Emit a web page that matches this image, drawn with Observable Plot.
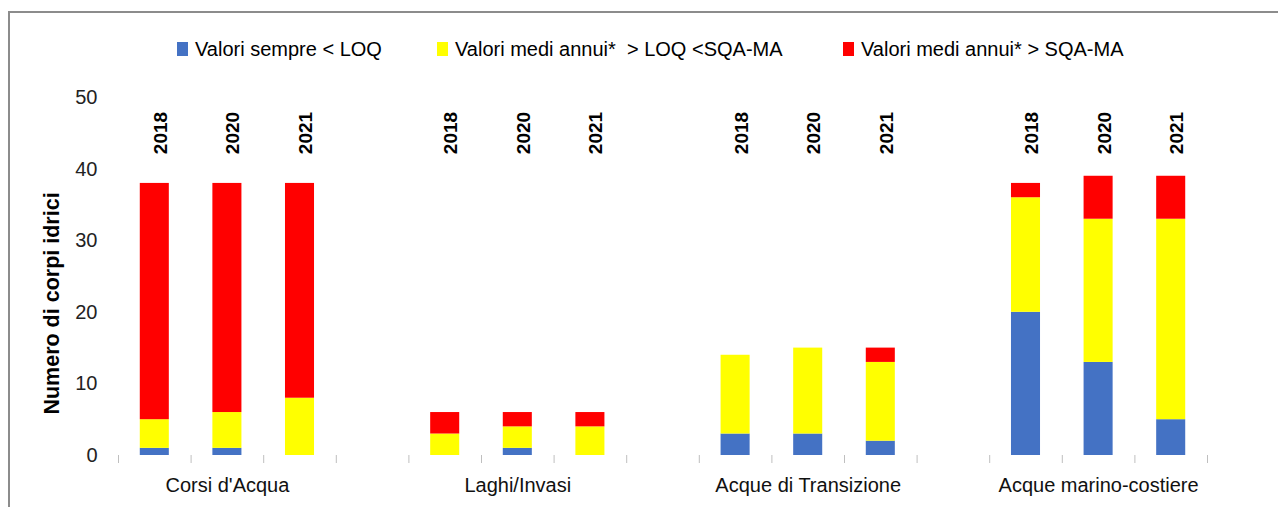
<!DOCTYPE html>
<html><head><meta charset="utf-8">
<script src="https://cdn.jsdelivr.net/npm/d3@7"></script>
<script src="https://cdn.jsdelivr.net/npm/@observablehq/plot@0.6"></script>
<style>
html,body{margin:0;padding:0;background:#fff;overflow:hidden;}
#wrap{position:relative;width:1278px;height:507px;font-family:"Liberation Sans",Arial,sans-serif;}
#frame{position:absolute;left:8px;top:11px;right:0;bottom:0;border-top:2px solid #8c8c8c;border-left:2px solid #8c8c8c;pointer-events:none;}
#legend{box-sizing:border-box;height:70px;padding-top:39px;padding-left:177px;display:flex;align-items:flex-start;font-size:20px;line-height:20px;color:#000;white-space:pre;}
.item{display:flex;align-items:center;height:20px;}
.sw{width:11px;height:14px;margin-right:7px;flex:none;}
#chart svg{display:block;}
</style>
</head><body>
<div id="wrap">
  <div id="legend"></div>
  <div id="chart"></div>
  <div id="frame"></div>
</div>
<script>
const categories = ["Corsi d'Acqua", "Laghi/Invasi", "Acque di Transizione", "Acque marino-costiere"];
const years = ["2018", "2020", "2021"];
const seriesNames = ["Valori sempre < LOQ", "Valori medi annui*  > LOQ <SQA-MA", "Valori medi annui* > SQA-MA"];
const sempreLOQ = [[1, 1, 0], [0, 1, 0], [3, 3, 2], [20, 13, 5]];
const mediLOQ   = [[4, 5, 8], [3, 3, 4], [11, 12, 11], [16, 20, 28]];
const mediSQA   = [[33, 32, 30], [3, 2, 2], [0, 0, 2], [2, 6, 6]];
const yTicks = [0, 10, 20, 30, 40, 50];
const yTitle = "Numero di corpi idrici";
const colors = ["#4472C4", "#FFFF00", "#FF0000"];
const legendWidths = [260, 406, null];

const series = [sempreLOQ, mediLOQ, mediSQA];
const slotsPerGroup = years.length + 1;
const nSlots = categories.length * slotsPerGroup - 1;

const rows = [];
categories.forEach((cat, i) => years.forEach((year, j) => {
  const slot = i * slotsPerGroup + j;
  series.forEach((arr, k) => rows.push({cat, year, slot, series: seriesNames[k], value: arr[i][j]}));
}));
const bars = rows.filter(d => d.series === seriesNames[0]);

// legend
const leg = document.getElementById("legend");
seriesNames.forEach((name, k) => {
  const it = document.createElement("div");
  it.className = "item";
  if (legendWidths[k]) it.style.width = legendWidths[k] + "px";
  const sw = document.createElement("span");
  sw.className = "sw";
  sw.style.background = colors[k];
  const tx = document.createElement("span");
  tx.textContent = name;
  it.appendChild(sw); it.appendChild(tx);
  leg.appendChild(it);
});

const chart = Plot.plot({
  width: 1278,
  height: 437,
  marginTop: 27,
  marginBottom: 52,
  marginLeft: 118,
  marginRight: 71,
  style: {fontFamily: "'Liberation Sans', Arial, sans-serif", background: "transparent", color: "#000"},
  x: {domain: [0, nSlots]},
  y: {domain: [0, 50]},
  color: {domain: seriesNames, range: colors},
  marks: [
    Plot.rectY(rows, Plot.stackY({
      x1: d => d.slot + 0.3,
      x2: d => d.slot + 0.7,
      y: "value",
      fill: "series"
    })),
    Plot.axisY({ticks: yTicks, tickSize: 0, tickPadding: 21, fontSize: 20, fill: "#222", label: null}),
    Plot.axisX({ticks: d3.range(nSlots + 1), tickSize: 8, tickFormat: () => "", stroke: "#bfbfbf", label: null}),
    Plot.text(bars, {
      x: d => d.slot + 0.5, text: "year", frameAnchor: "top",
      textAnchor: "middle", lineAnchor: "middle",
      dy: 35.5, dx: 6, rotate: -90, fontSize: 19, fontWeight: "bold", fill: "#000"
    }),
    Plot.text(categories, {
      x: (d, i) => i * slotsPerGroup + years.length / 2, text: d => d,
      frameAnchor: "bottom", textAnchor: "middle", lineAnchor: "middle",
      dy: 30, fontSize: 20, fill: "#111"
    }),
    Plot.text([yTitle], {
      text: d => d, frameAnchor: "left", textAnchor: "middle", lineAnchor: "middle",
      dx: -66.5, dy: 27, rotate: -90,
      fontSize: 21.5, fontWeight: "bold", fill: "#000"
    })
  ]
});
document.getElementById("chart").appendChild(chart);
</script>
</body></html>
